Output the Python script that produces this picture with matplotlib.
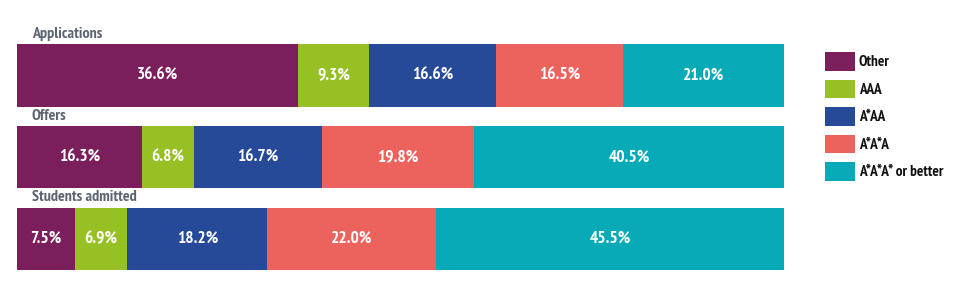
import matplotlib
matplotlib.use("Agg")
import matplotlib.pyplot as plt
from matplotlib import font_manager as fm
from matplotlib.patches import Patch

names = {f.name for f in fm.fontManager.ttflist}
FONT = "DejaVu Sans"
for cand in ["PT Sans Narrow", "Fira Sans Condensed", "Roboto Condensed", "Open Sans Condensed"]:
    if cand in names:
        FONT = cand
        break

groups = ["Applications", "Offers", "Students admitted"]
categories = ["Other", "AAA", "A*AA", "A*A*A", "A*A*A* or better"]
other = [36.6, 16.3, 7.5]
aaa = [9.3, 6.8, 6.9]
astar_aa = [16.6, 16.7, 18.2]
astar2_a = [16.5, 19.8, 22.0]
astar3 = [21.0, 40.5, 45.5]
series = [other, aaa, astar_aa, astar2_a, astar3]
colors = ["#7b1e5c", "#97c024", "#264a98", "#ec635e", "#08aab7"]

W, H = 965, 291
fig = plt.figure(figsize=(W / 100, H / 100), dpi=100)
ax = fig.add_axes([17 / W, 0, (784 - 17) / W, 1])
ax.set_xlim(0, 100)
ax.set_ylim(2.636, -0.9235)
ax.axis("off")

ypos = list(range(len(groups)))
left = [0.0] * len(groups)
for vals, col in zip(series, colors):
    ax.barh(ypos, vals, left=left, height=0.76, color=col, edgecolor="none")
    for i, v in enumerate(vals):
        ax.text(left[i] + v / 2, ypos[i], f"{v:.1f}%", ha="center", va="center",
                color="white", fontsize=12.5, fontweight="bold", family=FONT)
    left = [l + v for l, v in zip(left, vals)]

for i, g in enumerate(groups):
    ax.text(1.9, ypos[i] - 0.51, g, ha="left", va="center", color="#5d6570",
            fontsize=11.5, fontweight="bold", family=FONT)

handles = [Patch(facecolor=c, edgecolor="none") for c in colors]
leg = fig.legend(handles, categories, loc="upper left",
                 bbox_to_anchor=(825 / W, 1 - 52 / H), frameon=False,
                 handlelength=1.96, handleheight=1.5, handletextpad=0.26,
                 labelspacing=0.58, borderaxespad=0, borderpad=0,
                 prop={"family": FONT, "weight": "bold", "size": 11})
for t in leg.get_texts():
    t.set_color("#111111")

fig.savefig("out.png", dpi=100)
